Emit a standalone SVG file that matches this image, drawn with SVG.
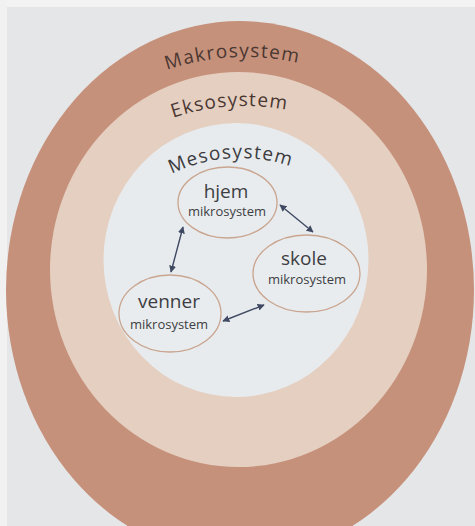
<svg xmlns="http://www.w3.org/2000/svg" width="475" height="526" viewBox="0 0 475 526">
  <style>
    .lvl { font-family: "Open Sans", "DejaVu Sans", sans-serif; font-size: 19px; }
    .outerlbl { fill: #4a3731; }
    .meso { fill: #3c3c40; }
    .node ellipse { fill: #e9ecef; stroke: #c9a58f; stroke-width: 1.3; }
    .title { font-family: "Open Sans", "DejaVu Sans", sans-serif; font-size: 19px; fill: #3d3e43; text-anchor: middle; }
    .sub { font-family: "Open Sans", "DejaVu Sans", sans-serif; font-size: 13px; fill: #3d3e43; text-anchor: middle; }
    .conn line { stroke: #3f4a62; stroke-width: 1.4; marker-start: url(#ah); marker-end: url(#ah); }
  </style>
  <defs>
    <marker id="ah" viewBox="0 0 10 10" refX="9" refY="5" markerWidth="7" markerHeight="7" markerUnits="userSpaceOnUse" orient="auto-start-reverse">
      <path d="M0,0 L10,5 L0,10 z" fill="#3f4a62"/>
    </marker>
    <path id="arcMakro" d="M2,300 A243,243 0 0 1 488,300"/>
    <path id="arcEkso" d="M20,331 A225,225 0 0 1 470,331"/>
    <path id="arcMeso" d="M85,313 A155,155 0 0 1 395,313"/>
  </defs>

  <!-- page background -->
  <rect x="0" y="0" width="475" height="526" fill="#e5e6e8"/>
  <rect x="0" y="0" width="475" height="7" fill="#f3f3f4"/>
  <rect x="0" y="0" width="7" height="526" fill="#f1f1f2"/>

  <g id="makrosystem">
    <ellipse cx="240" cy="290" rx="234" ry="269" fill="#c6917b"/>
    <text class="lvl outerlbl" letter-spacing="1.3"><textPath href="#arcMakro" startOffset="369" text-anchor="middle">Makrosystem</textPath></text>
  </g>
  <g id="eksosystem">
    <ellipse cx="238.5" cy="269.5" rx="188.5" ry="197.5" fill="#e5cfc1"/>
    <text class="lvl outerlbl" letter-spacing="1.2"><textPath href="#arcEkso" startOffset="338" text-anchor="middle">Eksosystem</textPath></text>
  </g>
  <g id="mesosystem">
    <ellipse cx="236" cy="260" rx="132.5" ry="137" fill="#e8ebee"/>
    <text class="lvl meso" letter-spacing="1.2"><textPath href="#arcMeso" startOffset="234" text-anchor="middle">Mesosystem</textPath></text>
  </g>

  <g id="connectors" class="conn">
    <line x1="280" y1="205" x2="313" y2="232"/>
    <line x1="183" y1="227" x2="171" y2="272"/>
    <line x1="223" y1="321" x2="264" y2="305"/>
  </g>

  <g id="hjem" class="node">
    <ellipse cx="227.5" cy="202.5" rx="49.5" ry="35.5"/>
    <text class="title" x="226" y="198">hjem</text>
    <text class="sub" x="227" y="216">mikrosystem</text>
  </g>
  <g id="skole" class="node">
    <ellipse cx="306.5" cy="273.5" rx="53.5" ry="38.5"/>
    <text class="title" x="304" y="265">skole</text>
    <text class="sub" x="307" y="284">mikrosystem</text>
  </g>
  <g id="venner" class="node">
    <ellipse cx="170" cy="313.5" rx="51" ry="38.5"/>
    <text class="title" x="169" y="308">venner</text>
    <text class="sub" x="169" y="329">mikrosystem</text>
  </g>
</svg>
